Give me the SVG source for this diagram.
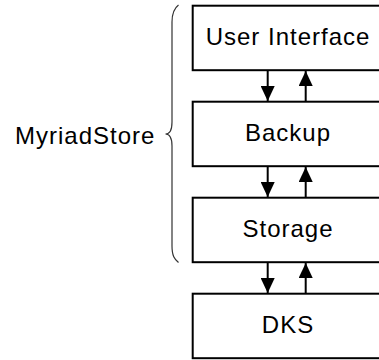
<svg xmlns="http://www.w3.org/2000/svg" width="379" height="360" viewBox="0 0 379 360">
<defs>
<style>
.box{fill:#fff;stroke:#000;stroke-width:2}
.lbl{font-family:"Liberation Sans",Arial,sans-serif;font-size:24px;letter-spacing:1px;fill:#000}
.mid{text-anchor:middle}
.arr{stroke:#000;stroke-width:2;fill:none}
.brace{stroke:#333;stroke-width:1.2;fill:none}
</style>
<marker id="ah" viewBox="0 0 15 14" refX="15" refY="7" markerWidth="15" markerHeight="14" markerUnits="userSpaceOnUse" orient="auto">
<path d="M0,0 L15,7 L0,14 Z" fill="#000"/>
</marker>
</defs>
<g id="myriadstore">
<path class="brace" d="M178.5,5 C174.5,8 172,12 172,22 L172,122 C172,130 170,134 165.5,134 C170,134 172,138 172,146 L172,246 C172,256 174.5,259 178.5,262.5"/>
<text class="lbl" x="15" y="144">MyriadStore</text>
</g>
<g id="user-interface">
<rect class="box" x="192.7" y="5.7" width="210" height="64.5"/>
<text class="lbl mid" x="288" y="45">User Interface</text>
</g>
<g id="backup">
<rect class="box" x="192.7" y="101.7" width="210" height="64.5"/>
<text class="lbl mid" x="288" y="141">Backup</text>
</g>
<g id="storage">
<rect class="box" x="192.7" y="197.7" width="210" height="64.5"/>
<text class="lbl mid" x="288" y="237">Storage</text>
</g>
<g id="dks">
<rect class="box" x="192.7" y="293.7" width="210" height="64.5"/>
<text class="lbl mid" x="288" y="333">DKS</text>
</g>
<g id="connectors">
<line class="arr" x1="267.7" y1="71" x2="267.7" y2="101" marker-end="url(#ah)"/>
<line class="arr" x1="305.7" y1="101" x2="305.7" y2="71" marker-end="url(#ah)"/>
<line class="arr" x1="267.7" y1="167" x2="267.7" y2="197" marker-end="url(#ah)"/>
<line class="arr" x1="305.7" y1="197" x2="305.7" y2="167" marker-end="url(#ah)"/>
<line class="arr" x1="267.7" y1="263" x2="267.7" y2="293" marker-end="url(#ah)"/>
<line class="arr" x1="305.7" y1="293" x2="305.7" y2="263" marker-end="url(#ah)"/>
</g>
</svg>
